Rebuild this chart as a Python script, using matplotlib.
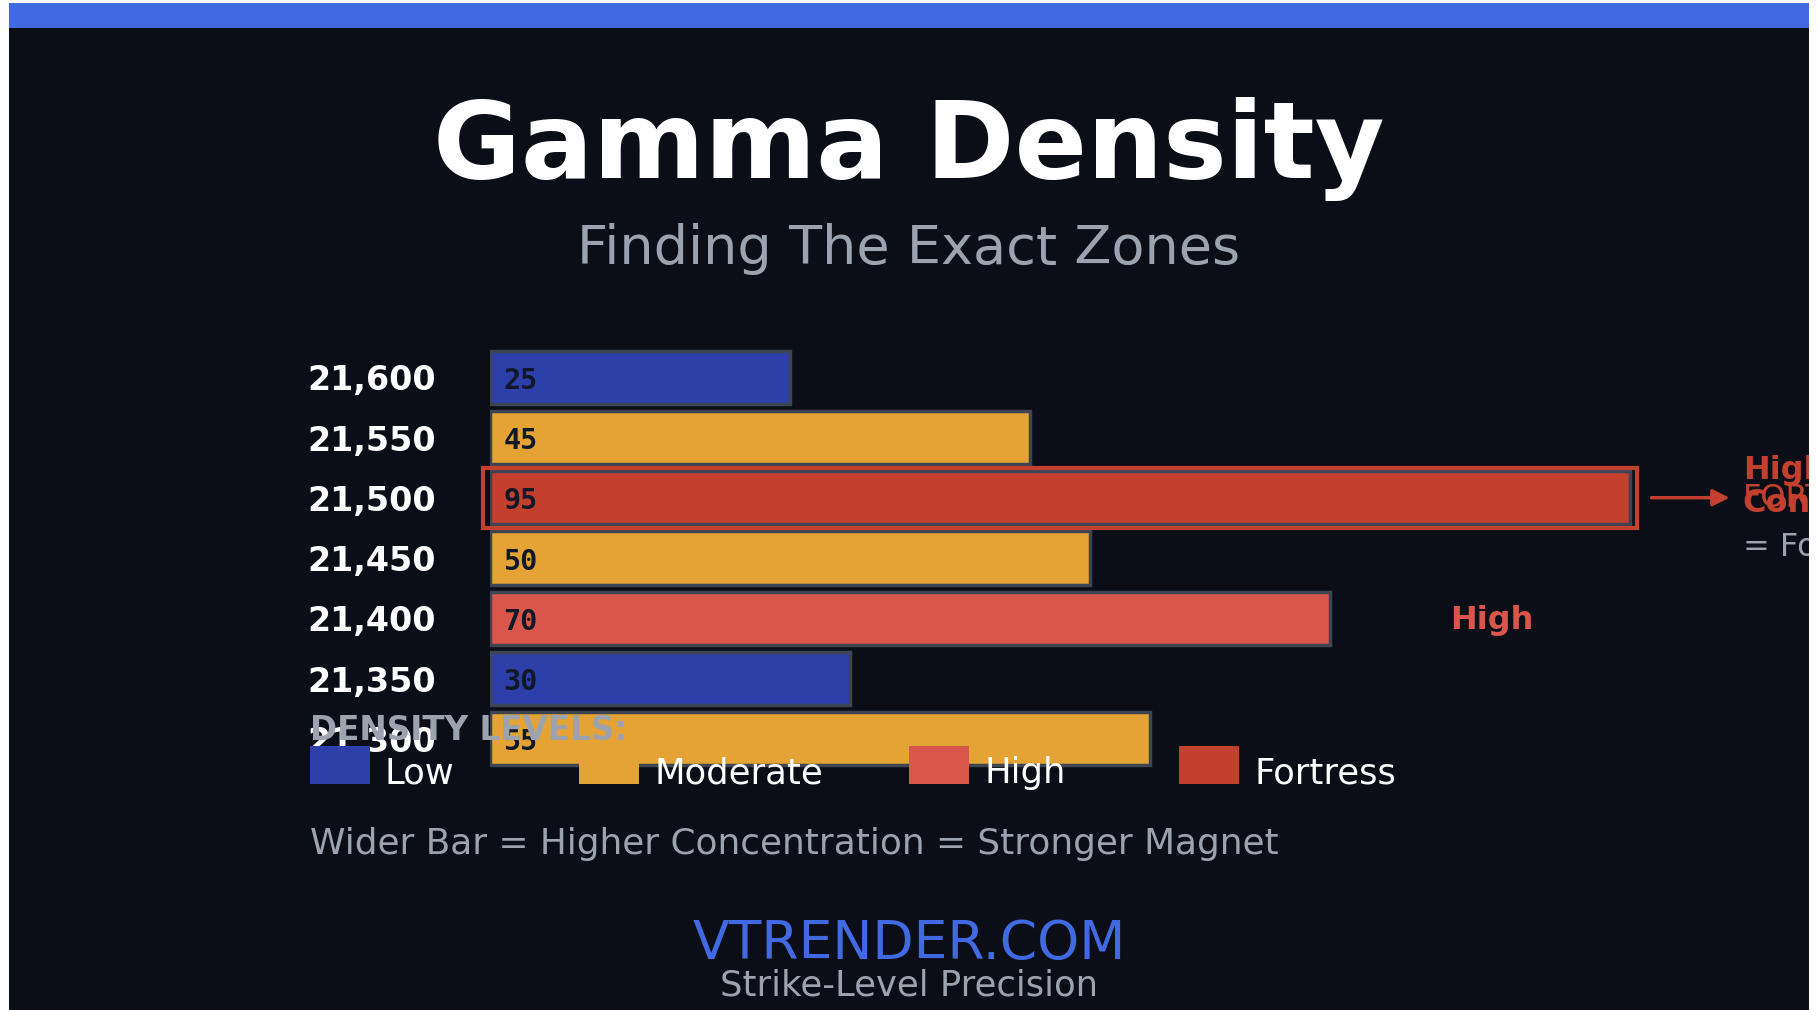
import matplotlib
matplotlib.use("Agg")
import matplotlib.pyplot as plt
from matplotlib.patches import Rectangle

# data
strikes = ["21,600", "21,550", "21,500", "21,450", "21,400", "21,350", "21,300"]
density = [25, 45, 95, 50, 70, 30, 55]
level = ["Low", "Moderate", "Fortress", "Moderate", "High", "Low", "Moderate"]
legend_levels = ["Low", "Moderate", "High", "Fortress"]
level_colors = {"Low": "#2d3fa9", "Moderate": "#e4a334", "High": "#d9574a", "Fortress": "#c33f2e"}

BG = "#0b0e17"
GRAY = "#9ca3af"
W, H = 1818, 1010


def fx(x):
    return x / W


def fy(y):
    return 1 - y / H


fig = plt.figure(figsize=(W / 100, H / 100), dpi=100, facecolor="white")

# dark panel + top accent
fig.add_artist(Rectangle((fx(9), 0), fx(1800), fy(3), transform=fig.transFigure,
                         facecolor=BG, edgecolor="none", zorder=0))
fig.add_artist(Rectangle((fx(9), fy(28)), fx(1800), 25 / H, transform=fig.transFigure,
                         facecolor="#4169e1", edgecolor="none", zorder=1))

fig.text(0.5, fy(178), "Gamma Density", ha="center", va="baseline",
         fontsize=77, fontweight="bold", color="white")
fig.text(0.5, fy(264), "Finding The Exact Zones", ha="center", va="baseline",
         fontsize=39, color=GRAY)

# bars
ax = fig.add_axes([fx(490), fy(769), 1200 / W, 422 / H])
ax.set_facecolor("none")
ax.axis("off")
ypos = list(range(len(strikes)))
ax.barh(ypos, density, height=0.88, left=0,
        color=[level_colors[l] for l in level], edgecolor="#3d4452", linewidth=2.5)
ax.set_xlim(0, 100)
ax.set_ylim(len(strikes) - 0.5, -0.5)

for y, s, v in zip(ypos, strikes, density):
    ax.text(-4.5, y + 0.06, s, ha="right", va="center", fontsize=24, fontweight="bold",
            color="white", clip_on=False)
    ax.text(1.1, y + 0.06, str(v), ha="left", va="center", fontsize=20.5, fontweight="bold",
            family="DejaVu Sans Mono", color="#111827")

# fortress highlight
fi = level.index("Fortress")
ax.add_patch(Rectangle((-0.6, fi - 0.5), density[fi] + 1.2, 1.0, fill=False,
                       edgecolor=level_colors["Fortress"], linewidth=3, clip_on=False))
ax.annotate("", xy=(103.3, fi), xytext=(96.8, fi), annotation_clip=False,
            arrowprops=dict(arrowstyle="-|>", color=level_colors["Fortress"], lw=2.5,
                            mutation_scale=25, shrinkA=0, shrinkB=0))
ax.text(104.4, fi - 0.45, "High", ha="left", va="center", fontsize=23,
        fontweight="bold", color=level_colors["Fortress"], clip_on=False)
ax.text(104.4, fi + 0.1, "Concentration", ha="left", va="center", fontsize=23,
        fontweight="bold", color=level_colors["Fortress"], clip_on=False)
ax.text(104.4, fi + 0.02, "FORTRESS", ha="left", va="center", fontsize=23,
        color=level_colors["Fortress"], clip_on=False)
ax.text(104.4, fi + 0.83, "= Fortress Zone", ha="left", va="center", fontsize=23,
        color=GRAY, clip_on=False)

hi = level.index("High")
ax.text(83.5, hi + 0.04, "High", ha="center", va="center", fontsize=23, fontweight="bold",
        color=level_colors["High"], clip_on=False)

# legend
fig.text(fx(310), fy(730), "DENSITY LEVELS:", ha="left", va="center", fontsize=23.5,
         fontweight="bold", color=GRAY)
sw_x = [310, 579, 909, 1179]
for x0, name in zip(sw_x, legend_levels):
    fig.add_artist(Rectangle((fx(x0), fy(784)), 60 / W, 38 / H, transform=fig.transFigure,
                             facecolor=level_colors[name], edgecolor="none"))
    fig.text(fx(x0 + 75), fy(773), name, ha="left", va="center", fontsize=25.5,
             color="white")

fig.text(fx(310), fy(844), "Wider Bar = Higher Concentration = Stronger Magnet",
         ha="left", va="center", fontsize=25.8, color=GRAY)
fig.text(0.5, fy(944), "VTRENDER.COM", ha="center", va="center", fontsize=38.5,
         color="#4169e1")
fig.text(0.5, fy(986), "Strike-Level Precision", ha="center", va="center",
         fontsize=25.5, color=GRAY)

# white frame edges over anything running off the panel
for rect in [(0, 0, fx(9), 1), (fx(1809), 0, fx(9), 1), (0, fy(3), 1, 3 / H)]:
    fig.add_artist(Rectangle(rect[:2], rect[2], rect[3], transform=fig.transFigure,
                             facecolor="white", edgecolor="none", zorder=20))

fig.savefig("out.png", dpi=100, facecolor="white")
